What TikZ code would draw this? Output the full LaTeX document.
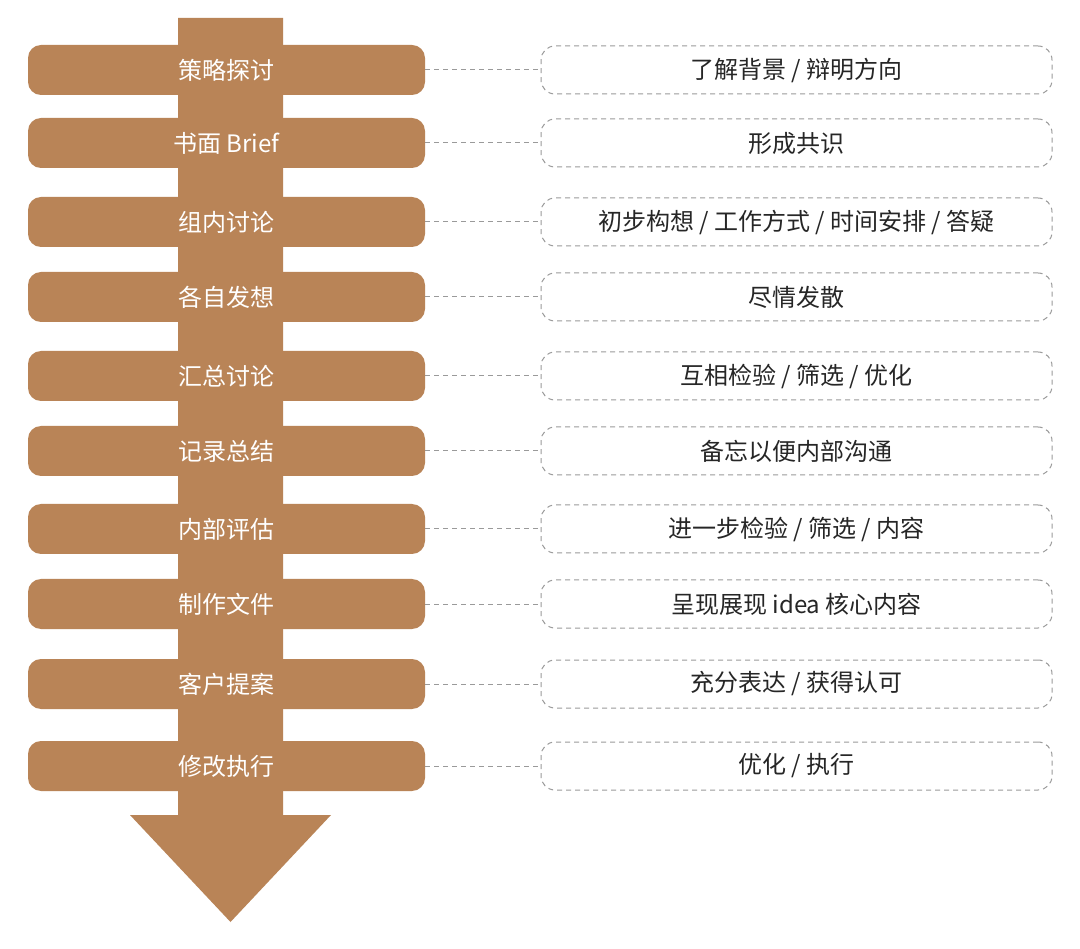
\documentclass[tikz,border=0pt]{standalone}
\usepackage{fontspec}
\newfontfamily\cjk{Noto Sans CJK SC}
\definecolor{brn}{HTML}{B98457}
\definecolor{dg}{HTML}{9A9A9A}
\begin{document}
\begin{tikzpicture}[x=1pt,y=-1pt,
  pill/.style={fill=brn,rounded corners=13pt,minimum width=397pt,minimum height=50pt,inner sep=0pt,text=white,font=\cjk\fontsize{24pt}{26pt}\selectfont},
  dbox/.style={draw=dg,dash pattern=on 5pt off 4pt,line width=1pt,rounded corners=14pt,minimum width=511pt,minimum height=48pt,inner sep=0pt,text=black!85,font=\cjk\fontsize{24pt}{26pt}\selectfont},
  conn/.style={draw=dg,dash pattern=on 5pt off 4pt,line width=1pt}]
\useasboundingbox (0,0) rectangle (1080,949);
\fill[white] (0,0) rectangle (1080,949);
\fill[brn] (178,18) -- (283,18) -- (283,815) -- (331,815) -- (230.5,922) -- (130,815) -- (178,815) -- cycle;
\foreach \y/\l/\r [count=\i] in {70/策略探讨/{了解背景 / 辩明方向},143/书面 Brief/形成共识,222/组内讨论/{初步构想 / 工作方式 / 时间安排 / 答疑},297/各自发想/尽情发散,376/汇总讨论/{互相检验 / 筛选 / 优化},451/记录总结/备忘以便内部沟通,529/内部评估/{进一步检验 / 筛选 / 内容},604/制作文件/呈现展现 idea 核心内容,684/客户提案/{充分表达 / 获得认可},766/修改执行/{优化 / 执行}}{
  \node[pill] (L\i) at (226.5,\y) {\l};
  \node[dbox] (R\i) at (796.5,\y) {\r};
  \draw[conn] (L\i.east) -- (R\i.west);
}
\end{tikzpicture}
\end{document}
